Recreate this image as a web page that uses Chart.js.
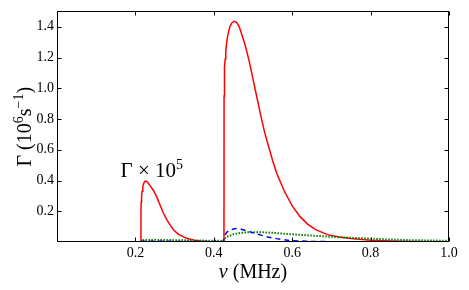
<!DOCTYPE html>
<html>
<head>
<meta charset="utf-8">
<script src="https://cdn.jsdelivr.net/npm/chart.js@4/dist/chart.umd.min.js"></script>
<style>
  html, body { margin: 0; padding: 0; background: #fff; }
</style>
</head>
<body>
<canvas id="chart" width="469" height="290"></canvas>
<script>
// Curva roja (total), dos jorobas
const redNu = [0.214, 0.2142, 0.2148, 0.2158, 0.217, 0.219, 0.2215, 0.2245, 0.228, 0.232, 0.238, 0.246, 0.255, 0.262, 0.271, 0.280, 0.290, 0.297, 0.310, 0.331, 0.350, 0.370, 0.390, 0.425,
  0.426, 0.4262, 0.4266, 0.4272, 0.428, 0.429, 0.4305, 0.432, 0.434, 0.437, 0.441, 0.446, 0.452, 0.458, 0.465, 0.472, 0.480, 0.490, 0.500, 0.510, 0.520, 0.530, 0.540, 0.550, 0.560, 0.580, 0.600, 0.620, 0.640, 0.660, 0.690, 0.720, 0.750, 0.800, 0.850, 0.900, 1.000];
const redGamma = [0, 0.20, 0.26, 0.30, 0.33, 0.36, 0.383, 0.395, 0.395, 0.385, 0.365, 0.335, 0.29, 0.245, 0.19, 0.145, 0.105, 0.08, 0.05, 0.024, 0.011, 0.005, 0.002, 0.001,
  0, 0.95, 1.03, 1.09, 1.14, 1.19, 1.24, 1.28, 1.32, 1.36, 1.40, 1.425, 1.435, 1.43, 1.40, 1.345, 1.28, 1.18, 1.06, 0.94, 0.82, 0.71, 0.62, 0.53, 0.45, 0.33, 0.235, 0.165, 0.115, 0.08, 0.048, 0.032, 0.022, 0.012, 0.007, 0.004, 0.002];

// Curva verde punteada
const greenNu = [0.214, 0.215, 0.250, 0.300, 0.350, 0.400, 0.425, 0.426, 0.435, 0.450, 0.470, 0.490, 0.520, 0.560, 0.600, 0.660, 0.720, 0.780, 0.830, 0.900, 1.000];
const greenGamma = [0, 0.012, 0.014, 0.012, 0.010, 0.008, 0.007, 0.020, 0.035, 0.050, 0.060, 0.064, 0.064, 0.058, 0.050, 0.040, 0.031, 0.024, 0.018, 0.012, 0.008];

// Curva azul discontinua
const blueNu = [0.214, 0.215, 0.300, 0.425, 0.426, 0.432, 0.440, 0.450, 0.458, 0.470, 0.490, 0.510, 0.535, 0.560, 0.580, 0.600, 0.650, 0.700, 0.800, 1.000];
const blueGamma = [0, 0.005, 0.004, 0.003, 0.030, 0.060, 0.077, 0.085, 0.087, 0.083, 0.068, 0.052, 0.034, 0.022, 0.014, 0.008, 0.004, 0.002, 0.001, 0.0005];

// Marcas de los ejes
const xTicks = [0.2, 0.4, 0.6, 0.8, 1.0];
const yTicks = [0.2, 0.4, 0.6, 0.8, 1.0, 1.2, 1.4];

// Posición de la anotación en unidades de datos
const annotPos = { x: 0.242, y: 0.426 };

const SERIF = '"Liberation Serif", "DejaVu Serif", serif';

const toPoints = (xs, ys) => xs.map((v, i) => ({ x: v, y: ys[i] }));

// Dibuja texto con partes (superíndices, cursiva) centrado en cx
function drawRich(ctx, parts, cx, baseY) {
  let w = 0;
  parts.forEach(p => {
    ctx.font = `${p.italic ? 'italic ' : ''}${p.size}px ${SERIF}`;
    p.w = ctx.measureText(p.t).width;
    w += p.w;
  });
  let xx = cx - w / 2;
  parts.forEach(p => {
    ctx.font = `${p.italic ? 'italic ' : ''}${p.size}px ${SERIF}`;
    ctx.fillText(p.t, xx, baseY - (p.rise || 0));
    xx += p.w;
  });
}

// Marco, marcas hacia dentro y textos
const framePlugin = {
  id: 'frame',
  afterDatasetsDraw(chart) {
    const { ctx, chartArea: a, scales: { x, y } } = chart;
    const L = Math.round(a.left) + 0.5, R = Math.round(a.right) - 0.5;
    const T = Math.round(a.top) + 0.5, B = Math.round(a.bottom) - 0.5;
    ctx.save();
    ctx.strokeStyle = '#000';
    ctx.lineWidth = 1;
    ctx.strokeRect(L, T, R - L, B - T);
    ctx.beginPath();
    xTicks.forEach(v => {
      const px = Math.round(x.getPixelForValue(v)) + 0.5;
      ctx.moveTo(px, B); ctx.lineTo(px, B - 4);
      ctx.moveTo(px, T); ctx.lineTo(px, T + 4);
    });
    yTicks.forEach(v => {
      const py = Math.round(y.getPixelForValue(v)) + 0.5;
      ctx.moveTo(L, py); ctx.lineTo(L + 4, py);
      ctx.moveTo(R, py); ctx.lineTo(R - 4, py);
    });
    ctx.stroke();

    ctx.fillStyle = '#000';
    ctx.textBaseline = 'alphabetic';
    // anotación
    drawRich(ctx, [
      { t: 'Γ × 10', size: 21 },
      { t: '5', size: 14, rise: 8 }
    ], x.getPixelForValue(annotPos.x), y.getPixelForValue(annotPos.y));

    // título eje x
    drawRich(ctx, [
      { t: 'ν', size: 20, italic: true },
      { t: ' (MHz)', size: 20 }
    ], (a.left + a.right) / 2, 278);

    // título eje y (rotado)
    ctx.translate(31, (a.top + a.bottom) / 2);
    ctx.rotate(-Math.PI / 2);
    drawRich(ctx, [
      { t: 'Γ (10', size: 20 },
      { t: '6', size: 14, rise: 8 },
      { t: 's', size: 20 },
      { t: '−1', size: 14, rise: 8 },
      { t: ')', size: 20 }
    ], 0, 0);
    ctx.restore();
  }
};

const tickFont = { family: SERIF, size: 14 };

new Chart(document.getElementById('chart'), {
  type: 'line',
  data: {
    datasets: [
      { data: toPoints(blueNu, blueGamma), borderColor: '#0000ff', borderWidth: 1.5, borderDash: [5, 4] },
      { data: toPoints(greenNu, greenGamma), borderColor: '#007f00', borderWidth: 2, borderDash: [1.5, 1.5] },
      { data: toPoints(redNu, redGamma), borderColor: '#ff0000', borderWidth: 1.5 }
    ]
  },
  options: {
    responsive: false,
    animation: false,
    layout: { padding: { top: 10, right: 20, left: 0, bottom: 0 } },
    plugins: { legend: { display: false }, tooltip: { enabled: false } },
    elements: { point: { radius: 0 }, line: { tension: 0, fill: false } },
    scales: {
      x: {
        type: 'linear', min: 0, max: 1,
        afterBuildTicks: s => { s.ticks = xTicks.map(v => ({ value: v })); },
        afterFit: s => { s.height = 48; },
        grid: { display: false, drawTicks: false },
        border: { display: false },
        ticks: { font: tickFont, color: '#000', padding: 3, maxRotation: 0, autoSkip: false, callback: v => v.toFixed(1) }
      },
      y: {
        type: 'linear', min: 0, max: 1.5,
        afterBuildTicks: s => { s.ticks = yTicks.map(v => ({ value: v })); },
        afterFit: s => { s.width = 57; },
        grid: { display: false, drawTicks: false },
        border: { display: false },
        ticks: { font: tickFont, color: '#000', padding: 3, autoSkip: false, callback: v => v.toFixed(1) }
      }
    }
  },
  plugins: [framePlugin]
});
</script>
</body>
</html>
